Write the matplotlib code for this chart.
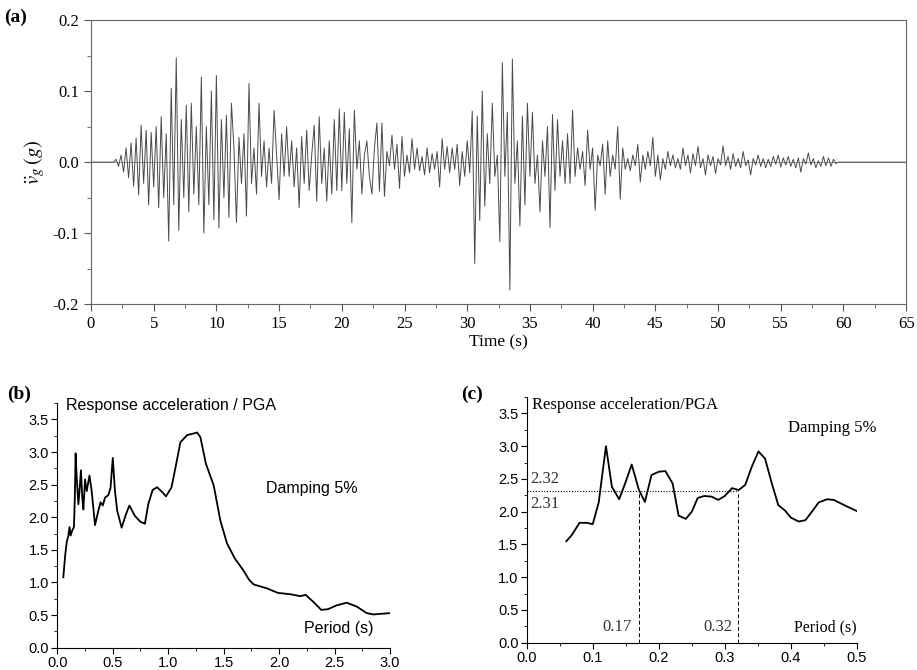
import numpy as np
import matplotlib.pyplot as plt
from matplotlib.ticker import MultipleLocator, FormatStrFormatter

plt.rcParams['mathtext.fontset'] = 'stix'
plt.rcParams['axes.unicode_minus'] = False

SERIF = 'Liberation Serif'
SANS = 'Liberation Sans'

# (a) ground acceleration record, sampled every 0.2 s from t = 1.8 s
acc_t0 = 1.8
acc_dt = 0.2
acc = [
    0.0, 0.004, -0.006, 0.01, -0.014, 0.02, -0.022, 0.027, -0.034, 0.034,
    -0.046, 0.052, -0.03, 0.045, -0.06, 0.042, -0.035, 0.05, -0.064, 0.064,
    -0.05, 0.04, -0.111, 0.104, -0.06, 0.147, -0.096, 0.06, -0.05, 0.08,
    -0.07, 0.083, -0.045, 0.05, -0.06, 0.12, -0.10, 0.05, -0.06, 0.10,
    -0.081, 0.122, -0.093, 0.06, -0.05, 0.066, -0.078, 0.083, 0.02, -0.085,
    0.035, -0.03, 0.04, -0.076, 0.111, -0.03, 0.02, -0.045, 0.083, -0.02,
    0.03, -0.035, 0.02, -0.03, 0.073, 0.01, -0.053, 0.04, -0.02, 0.05,
    -0.02, 0.03, -0.035, 0.02, -0.064, 0.036, -0.03, 0.045, -0.04, 0.01,
    0.052, -0.055, 0.064, -0.03, 0.02, -0.055, 0.03, -0.045, 0.06, -0.04,
    0.075, -0.04, 0.07, -0.03, 0.047, -0.085, 0.073, -0.01, 0.03, -0.045,
    0.01, 0.03, -0.02, -0.045, 0.02, 0.055, -0.041, 0.055, -0.048, 0.015,
    -0.005, 0.038, -0.01, 0.025, -0.037, 0.036, -0.02, 0.01, -0.015, 0.033,
    -0.01, 0.02, -0.012, 0.008, -0.018, 0.02, -0.015, 0.012, -0.01, 0.015,
    -0.035, 0.033, -0.01, 0.022, -0.015, 0.02, -0.01, 0.025, -0.033, 0.015,
    -0.02, 0.03, -0.015, 0.072, -0.143, 0.065, -0.082, 0.1, -0.062, 0.04,
    -0.03, 0.083, -0.02, 0.01, -0.112, 0.14, -0.02, 0.07, -0.18, 0.145,
    -0.03, 0.03, -0.09, 0.065, -0.06, 0.083, -0.02, 0.07, -0.03, 0.01,
    -0.07, 0.03, -0.02, 0.05, -0.092, 0.067, -0.04, 0.06, -0.02, 0.03,
    -0.03, 0.04, -0.03, 0.073, -0.02, 0.02, -0.01, 0.015, -0.033, 0.045,
    -0.01, 0.02, -0.068, 0.01, -0.005, 0.025, -0.045, 0.03, -0.02, 0.01,
    -0.01, 0.05, -0.052, 0.02, -0.01, 0.005, -0.012, 0.01, -0.005, 0.025,
    -0.028, 0.01, -0.01, 0.015, -0.005, 0.035, -0.02, 0.01, -0.025, 0.005,
    -0.01, 0.015, -0.005, 0.01, -0.008, 0.005, -0.01, 0.02, -0.005, 0.01,
    -0.015, 0.012, -0.005, 0.022, -0.008, 0.005, -0.018, 0.01, -0.005, 0.008,
    -0.016, 0.005, -0.004, 0.023, -0.005, 0.008, -0.01, 0.012, -0.006, 0.005,
    -0.008, 0.015, -0.005, 0.003, -0.018, 0.005, -0.004, 0.01, -0.006, 0.005,
    -0.008, 0.004, -0.006, 0.008, -0.003, 0.01, -0.007, 0.006, -0.004, 0.008,
    -0.006, 0.004, -0.008, 0.006, -0.014, 0.005, -0.003, 0.013, -0.004, 0.005,
    -0.008, 0.002, -0.006, 0.008, -0.005, 0.006, -0.006, 0.004, -0.002, 0.0,
]
t_start, t_end = 0.0, 65.0

# (b) response spectrum, 0-3 s
period_b = [0.054, 0.07, 0.085, 0.10, 0.11, 0.12, 0.135, 0.15, 0.158, 0.165,
            0.175, 0.19, 0.20, 0.213, 0.225, 0.235, 0.25, 0.265, 0.29, 0.31,
            0.34, 0.37, 0.39, 0.41, 0.43, 0.46, 0.48, 0.50, 0.52, 0.54,
            0.58, 0.62, 0.65, 0.70, 0.75, 0.79, 0.82, 0.86, 0.90, 0.95,
            0.98, 1.03, 1.07, 1.11, 1.17, 1.22, 1.26, 1.29, 1.34, 1.41,
            1.47, 1.53, 1.60, 1.68, 1.73, 1.77, 1.89, 1.99, 2.10, 2.19,
            2.24, 2.31, 2.38, 2.44, 2.52, 2.61, 2.70, 2.79, 2.85, 3.0]
sa_b = [1.08, 1.40, 1.62, 1.72, 1.85, 1.72, 1.80, 1.85, 2.30, 2.98,
        2.60, 2.20, 2.40, 2.72, 2.30, 2.12, 2.58, 2.40, 2.64, 2.40,
        1.88, 2.10, 2.23, 2.18, 2.30, 2.34, 2.45, 2.91, 2.40, 2.10,
        1.84, 2.05, 2.18, 2.02, 1.93, 1.90, 2.20, 2.42, 2.46, 2.38,
        2.32, 2.46, 2.80, 3.15, 3.26, 3.28, 3.30, 3.23, 2.82, 2.49,
        1.95, 1.60, 1.37, 1.18, 1.04, 0.97, 0.91, 0.84, 0.82, 0.79,
        0.81, 0.70, 0.58, 0.59, 0.65, 0.69, 0.63, 0.53, 0.51, 0.53]

# (c) zoom on 0-0.5 s
period_c = [0.06, 0.068, 0.08, 0.091, 0.10, 0.109, 0.12, 0.129, 0.14, 0.149,
            0.159, 0.17, 0.179, 0.189, 0.20, 0.21, 0.221, 0.23, 0.241, 0.25,
            0.259, 0.269, 0.28, 0.29, 0.30, 0.311, 0.321, 0.331, 0.341, 0.351,
            0.361, 0.371, 0.381, 0.391, 0.40, 0.412, 0.422, 0.432, 0.442, 0.455,
            0.465, 0.475, 0.487, 0.50]
sa_c = [1.55, 1.64, 1.83, 1.83, 1.81, 2.14, 3.0, 2.38, 2.19, 2.43,
        2.72, 2.33, 2.15, 2.56, 2.61, 2.62, 2.43, 1.94, 1.89, 2.0,
        2.21, 2.24, 2.23, 2.18, 2.24, 2.36, 2.33, 2.41, 2.69, 2.92,
        2.81, 2.44, 2.10, 2.02, 1.91, 1.85, 1.87, 2.0, 2.14, 2.19,
        2.18, 2.13, 2.07, 2.01]
t_marks = [0.17, 0.32]
sa_level = 2.32

fig = plt.figure(figsize=(9.17, 6.70), dpi=100)

# ---- (a) accelerogram
ax = fig.add_axes([0.0992, 0.546, 0.889, 0.424])
t = np.concatenate([[t_start], acc_t0 + acc_dt * np.arange(len(acc)), [t_end]])
a = np.concatenate([[0.0], acc, [0.0]])
ax.axhline(0, color='#888888', lw=0.6)
ax.plot(t, a, color='#4a4a4a', lw=0.7)
ax.set_xlim(0, 65)
ax.set_ylim(-0.2, 0.2)
ax.xaxis.set_major_locator(MultipleLocator(5))
ax.xaxis.set_minor_locator(MultipleLocator(2.5))
ax.yaxis.set_major_locator(MultipleLocator(0.1))
ax.yaxis.set_minor_locator(MultipleLocator(0.05))
ax.yaxis.set_major_formatter(FormatStrFormatter('%.1f'))
ax.tick_params(which='both', direction='out', color='#555555')
ax.tick_params(which='major', length=5, labelsize=12)
ax.tick_params(which='minor', length=3)
for lab in ax.get_xticklabels() + ax.get_yticklabels():
    lab.set_family(SERIF)
for sp in ax.spines.values():
    sp.set_color('#666666')
ax.set_xlabel('Time (s)', family=SERIF, fontsize=12.5, labelpad=2)
ax.set_ylabel(r'$\ddot{v}_g\,(g)$', fontsize=15, labelpad=4)
fig.text(0.005, 0.968, '(a)', family=SERIF, fontweight='bold', fontsize=14)

# ---- (b) response spectrum
bx = fig.add_axes([0.0625, 0.0333, 0.3628, 0.365])
bx.plot(period_b, sa_b, color='black', lw=1.3)
bx.set_xlim(0, 3.0)
bx.set_ylim(0, 3.75)
bx.xaxis.set_major_locator(MultipleLocator(0.5))
bx.xaxis.set_minor_locator(MultipleLocator(0.25))
bx.yaxis.set_major_locator(MultipleLocator(0.5))
bx.yaxis.set_minor_locator(MultipleLocator(0.25))
bx.xaxis.set_major_formatter(FormatStrFormatter('%.1f'))
bx.yaxis.set_major_formatter(FormatStrFormatter('%.1f'))
bx.spines['top'].set_visible(False)
bx.spines['right'].set_visible(False)
bx.tick_params(which='both', direction='out')
bx.tick_params(which='major', length=4, labelsize=10.5, pad=2)
bx.tick_params(which='minor', length=2.5)
for lab in bx.get_xticklabels() + bx.get_yticklabels():
    lab.set_family(SANS)
bx.text(0.08, 3.72, 'Response acceleration / PGA', family=SANS, fontsize=11.5, va='center')
bx.text(1.88, 2.44, 'Damping 5%', family=SANS, fontsize=11.5, va='center')
bx.text(2.22, 0.3, 'Period (s)', family=SANS, fontsize=11.5, va='center')
fig.text(0.008, 0.405, '(b)', family=SERIF, fontweight='bold', fontsize=14)

# ---- (c) short-period detail
cx = fig.add_axes([0.5744, 0.0407, 0.36, 0.3667])
cx.plot(period_c, sa_c, color='black', lw=1.3)
cx.plot([0, t_marks[1]], [sa_level, sa_level], color='black', lw=0.8, ls=(0, (1, 1.5)))
for tm in t_marks:
    cx.plot([tm, tm], [0, sa_level], color='black', lw=0.7, ls=(0, (4, 2.5)))
cx.set_xlim(0, 0.5)
cx.set_ylim(0, 3.75)
cx.xaxis.set_major_locator(MultipleLocator(0.1))
cx.xaxis.set_minor_locator(MultipleLocator(0.05))
cx.yaxis.set_major_locator(MultipleLocator(0.5))
cx.yaxis.set_minor_locator(MultipleLocator(0.25))
cx.xaxis.set_major_formatter(FormatStrFormatter('%.1f'))
cx.yaxis.set_major_formatter(FormatStrFormatter('%.1f'))
cx.spines['top'].set_visible(False)
cx.spines['right'].set_visible(False)
cx.tick_params(which='both', direction='out')
cx.tick_params(which='major', length=4, labelsize=10.5, pad=2)
cx.tick_params(which='minor', length=2.5)
for lab in cx.get_xticklabels() + cx.get_yticklabels():
    lab.set_family(SANS)
cx.text(0.008, 3.63, 'Response acceleration/PGA', family=SERIF, fontsize=12, va='center')
cx.text(0.395, 3.28, 'Damping 5%', family=SERIF, fontsize=12, va='center')
cx.text(0.405, 0.23, 'Period (s)', family=SERIF, fontsize=11.5, va='center')
cx.text(0.005, 2.5, '2.32', family=SERIF, fontsize=12, va='center', color='#333333')
cx.text(0.005, 2.12, '2.31', family=SERIF, fontsize=12, va='center', color='#333333')
cx.text(0.115, 0.24, '0.17', family=SERIF, fontsize=12, va='center', color='#333333')
cx.text(0.268, 0.24, '0.32', family=SERIF, fontsize=12, va='center', color='#333333')
fig.text(0.503, 0.405, '(c)', family=SERIF, fontweight='bold', fontsize=14)

fig.savefig('out.png', dpi=100, facecolor='white')
